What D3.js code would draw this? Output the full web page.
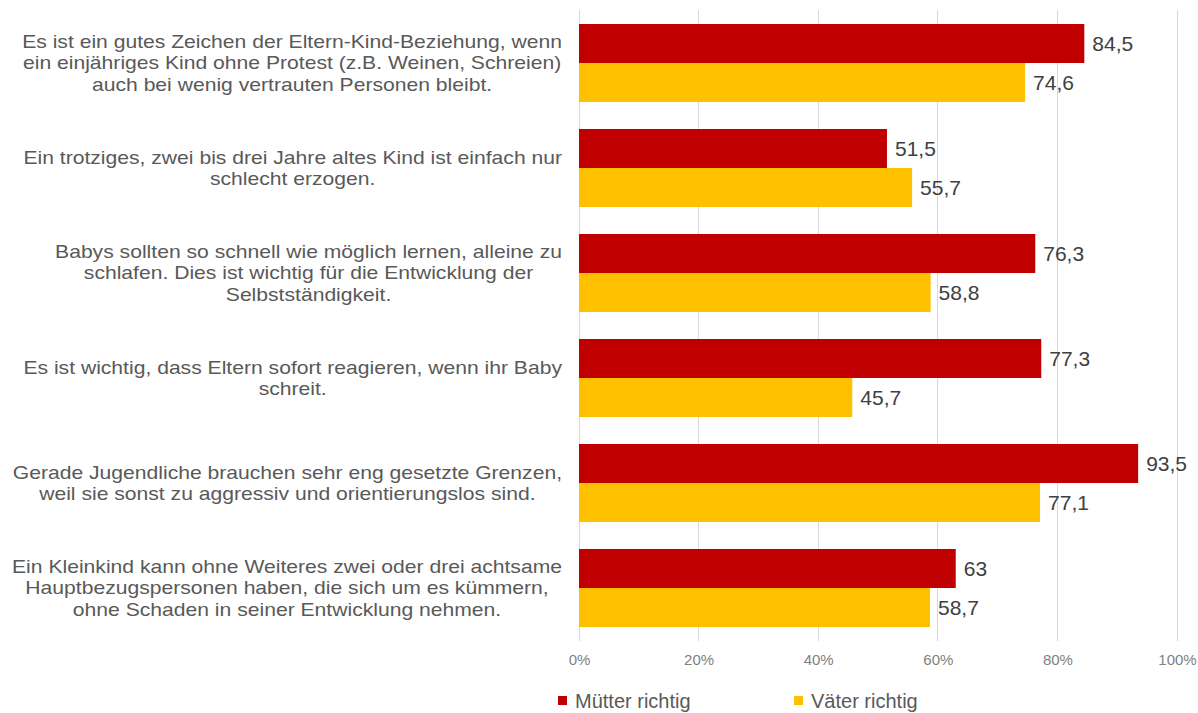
<!DOCTYPE html>
<html><head><meta charset="utf-8">
<script src="https://cdn.jsdelivr.net/npm/d3@7"></script>
<style>body{margin:0;background:#fff}svg{display:block}text{font-family:"Liberation Sans",Arial,sans-serif}</style>
</head><body>
<svg id="c" width="1198" height="713"></svg>
<script>
const categories = [
  ["Es ist ein gutes Zeichen der Eltern-Kind-Beziehung, wenn","ein einjähriges Kind ohne Protest (z.B. Weinen, Schreien)","auch bei wenig vertrauten Personen bleibt."],
  ["Ein trotziges, zwei bis drei Jahre altes Kind ist einfach nur","schlecht erzogen."],
  ["Babys sollten so schnell wie möglich lernen, alleine zu","schlafen. Dies ist wichtig für die Entwicklung der","Selbstständigkeit."],
  ["Es ist wichtig, dass Eltern sofort reagieren, wenn ihr Baby","schreit."],
  ["Gerade Jugendliche brauchen sehr eng gesetzte Grenzen,","weil sie sonst zu aggressiv und orientierungslos sind."],
  ["Ein Kleinkind kann ohne Weiteres zwei oder drei achtsame","Hauptbezugspersonen haben, die sich um es kümmern,","ohne Schaden in seiner Entwicklung nehmen."]
];
const muetter = [84.5, 51.5, 76.3, 77.3, 93.5, 63];
const vaeter = [74.6, 55.7, 58.8, 45.7, 77.1, 58.7];
const muetterLabels = ["84,5","51,5","76,3","77,3","93,5","63"];
const vaeterLabels = ["74,6","55,7","58,8","45,7","77,1","58,7"];
const ticks = [0,20,40,60,80,100];
const seriesNames = ["Mütter richtig","Väter richtig"];
const colors = ["#C00000","#FFC000"];

const svg = d3.select("#c");
const x = d3.scaleLinear().domain([0,100]).range([579,1177]);
const y = d3.scaleBand().domain(d3.range(categories.length)).range([10.5,640.5]).paddingInner(0.257).paddingOuter(0.1285);
const bh = y.bandwidth()/2;

// grid
svg.append("g").selectAll("line").data(ticks).join("line")
  .attr("x1",d=>x(d)).attr("x2",d=>x(d)).attr("y1",10).attr("y2",641)
  .attr("stroke","#d9d9d9").attr("stroke-width",1).attr("shape-rendering","crispEdges");

// x axis labels
const ax = svg.append("g").attr("transform","translate(0,641)")
  .call(d3.axisBottom(x).tickValues(ticks).tickFormat(d=>d+"%").tickSize(0).tickPadding(13));
ax.select(".domain").remove();
ax.selectAll("text").attr("font-size","15px").attr("fill","#7f7f7f").style("font-family","'Liberation Sans',Arial,sans-serif");

// bars
const g = svg.append("g");
g.selectAll("rect.m").data(muetter).join("rect").attr("class","m")
  .attr("x",x(0)).attr("y",(d,i)=>y(i)).attr("width",d=>x(d)-x(0)).attr("height",bh).attr("fill",colors[0]);
g.selectAll("rect.v").data(vaeter).join("rect").attr("class","v")
  .attr("x",x(0)).attr("y",(d,i)=>y(i)+bh).attr("width",d=>x(d)-x(0)).attr("height",bh).attr("fill",colors[1]);

// value labels
g.selectAll("text.ml").data(muetter).join("text").attr("class","ml")
  .attr("x",d=>x(d)+8).attr("y",(d,i)=>y(i)+bh/2).attr("dy","0.35em")
  .attr("font-size","21px").attr("fill","#404040").text((d,i)=>muetterLabels[i]);
g.selectAll("text.vl").data(vaeter).join("text").attr("class","vl")
  .attr("x",d=>x(d)+8).attr("y",(d,i)=>y(i)+bh*1.5).attr("dy","0.35em")
  .attr("font-size","21px").attr("fill","#404040").text((d,i)=>vaeterLabels[i]);

// category labels (slightly widened glyphs as in the reference)
const lh = 21.5, sx = 1.174;
categories.forEach((lines,i)=>{
  const cy = y(i)+bh;
  const grp = svg.append("g").attr("transform",`translate(562,0) scale(${sx},1)`);
  const ts = lines.map((l,k)=>grp.append("text")
    .attr("y", cy + (k-(lines.length-1)/2)*lh).attr("dy","0.35em")
    .attr("font-size","18px").attr("fill","#595959").attr("text-anchor","middle").text(l));
  const maxW = d3.max(ts, t=>t.node().getComputedTextLength());
  ts.forEach(t=>t.attr("x",-maxW/2));
});

// legend
const leg = svg.append("g");
const legX = [558, 794];
seriesNames.forEach((n,i)=>{
  leg.append("rect").attr("x",legX[i]).attr("y",696).attr("width",9).attr("height",9).attr("fill",colors[i]);
  leg.append("text").attr("x",legX[i]+17).attr("y",708).attr("font-size","20px").attr("fill","#595959").text(n);
});
</script>
</body></html>
